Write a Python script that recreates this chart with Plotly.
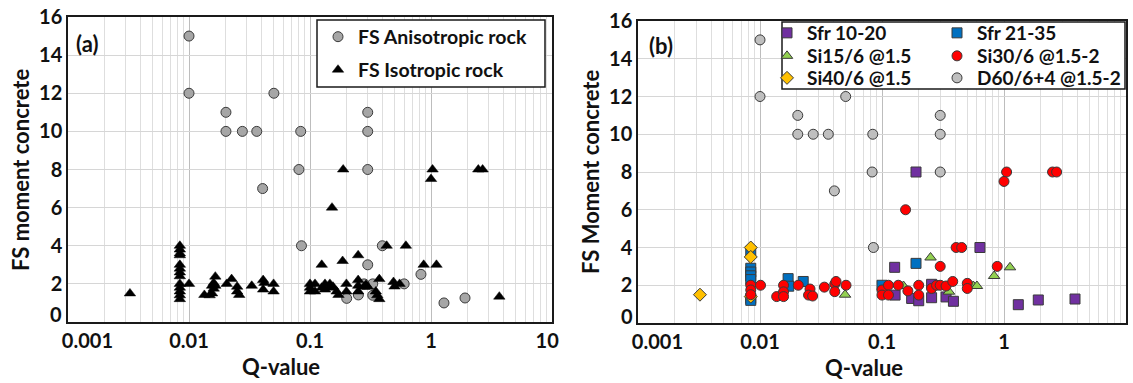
import plotly.graph_objects as go

W, H = 1133, 383

# ---------------- Panel (a) data ----------------
aniso_q = [0.01, 0.01, 0.0202, 0.0202, 0.0276, 0.0363, 0.0503, 0.0406, 0.0838, 0.081,
           0.30, 0.30, 0.30, 0.085, 0.396, 0.30, 0.826, 0.60, 0.33, 0.201, 0.251, 0.33,
           1.28, 1.91, 0.28]
aniso_fs = [15, 12, 11, 10, 10, 10, 12, 7, 10, 8,
            11, 10, 8, 4, 4, 3, 2.5, 2.0, 2.0, 1.24, 1.42, 1.4,
            1.0, 1.26, 2.0]

iso_q = [0.0084] * 13 + [
    0.00325, 0.01, 0.0134, 0.0148, 0.0155, 0.0155, 0.016, 0.016, 0.0165, 0.0165,
    0.0205, 0.0225, 0.025, 0.025, 0.026, 0.033, 0.041, 0.041, 0.042, 0.05, 0.05,
    0.1, 0.1, 0.1, 0.11, 0.11, 0.125, 0.125, 0.133, 0.133, 0.146, 0.146, 0.155, 0.166,
    0.152, 0.172, 0.186, 0.188, 0.2, 0.2, 0.25, 0.25, 0.25, 0.25, 0.28, 0.29, 0.3,
    0.35, 0.36, 0.374, 0.374, 0.43, 0.49, 0.5, 0.55, 0.62, 0.87, 1.0, 1.03, 1.11,
    2.46, 2.67, 3.67]
iso_fs = [4.0, 3.8, 3.6, 3.5, 3.0, 2.8, 2.6, 2.4, 2.0, 1.8, 1.6, 1.4, 1.2] + [
    1.5, 2.0, 1.42, 1.4, 1.5, 1.9, 2.05, 1.75, 2.38, 1.9,
    2.0, 2.25, 1.85, 1.6, 1.42, 1.9, 2.2, 1.7, 2.05, 2.0, 1.6,
    2.0, 1.6, 1.8, 2.0, 1.6, 3.0, 1.8, 2.0, 1.7, 2.0, 1.8, 1.85, 1.6,
    6.0, 1.42, 3.2, 8.0, 2.0, 1.6, 3.5, 2.2, 1.9, 1.6, 1.85, 1.95, 1.85,
    1.6, 1.4, 2.25, 1.2, 4.0, 2.1, 1.86, 2.0, 4.0, 3.0, 7.5, 8.0, 3.0,
    8.0, 8.0, 1.33]

# ---------------- Panel (b) data ----------------
sfr1020_q = [0.19, 0.635, 0.127, 1.31, 1.91, 3.82, 0.128, 0.175, 0.2, 0.255, 0.255, 0.335, 0.385]
sfr1020_fs = [8.0, 4.0, 2.95, 0.97, 1.22, 1.27, 1.48, 1.3, 1.18, 2.05, 1.34, 1.38, 1.15]

sfr2135_q = [0.0084, 0.0084, 0.0084, 0.0084, 0.0084, 0.0084, 0.0084, 0.017, 0.0172, 0.0226, 0.19, 0.1]
sfr2135_fs = [3.8, 2.9, 2.7, 2.5, 2.3, 1.3, 1.2, 2.35, 1.95, 2.2, 3.16, 2.0]

si15_q = [0.0498, 0.25, 0.15, 0.354, 0.56, 0.6, 0.83, 1.12]
si15_fs = [1.5, 3.47, 1.96, 1.66, 1.96, 1.96, 2.49, 2.95]

si30_q = [1.05, 1.0, 2.5, 2.7, 0.156, 0.405, 0.45, 0.3, 0.88,
          0.0084, 0.0084, 0.0084, 0.0101, 0.0137, 0.0156, 0.0156, 0.0156, 0.0206,
          0.0257, 0.025, 0.027, 0.0337, 0.041, 0.042, 0.041, 0.0507,
          0.1, 0.1, 0.113, 0.113, 0.136, 0.163, 0.2, 0.2, 0.255, 0.28, 0.3, 0.335,
          0.38, 0.5, 0.5]
si30_fs = [8.0, 7.5, 8.0, 8.0, 6.0, 4.0, 4.0, 3.0, 3.0,
           2.0, 1.75, 1.5, 2.0, 1.4, 2.0, 1.65, 1.4, 2.0,
           1.8, 1.48, 1.43, 1.9, 2.06, 2.2, 1.66, 2.0,
           1.75, 1.48, 2.0, 1.48, 2.0, 1.7, 2.0, 1.48, 1.83, 2.0, 2.0, 1.96,
           2.2, 2.1, 1.83]

si40_q = [0.00322, 0.0084, 0.0084, 0.0084]
si40_fs = [1.5, 4.0, 3.5, 1.4]

d60_q = [0.01, 0.01, 0.0204, 0.0204, 0.0273, 0.0363, 0.0504, 0.0407, 0.084, 0.083,
         0.3, 0.3, 0.3, 0.085]
d60_fs = [15, 12, 11, 10, 10, 10, 12, 7, 10, 8, 11, 10, 8, 4]

x_tickvals = [0.001, 0.01, 0.1, 1, 10]
x_ticklabels = ["0.001", "0.01", "0.1", "1", "10"]
y_tickvals = [0, 2, 4, 6, 8, 10, 12, 14, 16]

# ---------------- helpers ----------------
FONT = "Lato"
OUT = "#3a3a3a"


def px(x):
    return x / W


def py(y):
    return 1 - y / H


fig = go.Figure()


def add(q, fs, name, sym, col, axes, legend, lw=1, lcol=OUT):
    fig.add_trace(go.Scatter(
        x=q, y=fs, mode="markers", name="<b>%s</b>" % name,
        xaxis=axes[0], yaxis=axes[1], legend=legend,
        marker=dict(symbol=sym, size=10, color=col, line=dict(color=lcol, width=lw))))


# panel (a)
add(aniso_q, aniso_fs, "FS Anisotropic rock", "circle", "#a6a6a6", ("x", "y"), "legend")
add(iso_q, iso_fs, "FS Isotropic rock", "triangle-up", "black", ("x", "y"), "legend2",
    lw=0.5, lcol="black")
# panel (b) (grey drawn first, underneath)
add(d60_q, d60_fs, "D60/6+4 @1.5-2", "circle", "#bfbfbf", ("x2", "y2"), "legend8")
add(sfr1020_q, sfr1020_fs, "Sfr 10-20", "square", "#7030a0", ("x2", "y2"), "legend3")
add(sfr2135_q, sfr2135_fs, "Sfr 21-35", "square", "#0070c0", ("x2", "y2"), "legend6")
add(si40_q, si40_fs, "Si40/6 @1.5", "diamond", "#ffc000", ("x2", "y2"), "legend5")
add(si15_q, si15_fs, "Si15/6 @1.5", "triangle-up", "#92d050", ("x2", "y2"), "legend4")
add(si30_q, si30_fs, "Si30/6 @1.5-2", "circle", "#ff0000", ("x2", "y2"), "legend7")

minor_vals = [m * d for d in (0.001, 0.01, 0.1, 1) for m in range(2, 10)]
nb = "\u00a0"


def fmt_x(t):
    if t == "0.001":
        t = nb * 8 + t
    elif t == "10":
        t = t + nb * 2
    return "<b>%s</b>" % t


x_ticktext = [fmt_x(t) for t in x_ticklabels]
# the "0" label sits slightly raised in the original, so it is drawn as an annotation
y_ticktext = ["" if v == 0 else "<b>%d</b>" % v for v in y_tickvals]


def xax(domain, anchor):
    return dict(type="log", domain=domain, range=[-3, 1], anchor=anchor,
                tickmode="array", tickvals=x_tickvals, ticktext=x_ticktext,
                showgrid=True, gridcolor="#bdbdbd", gridwidth=1,
                minor=dict(tickmode="array", tickvals=minor_vals, showgrid=True,
                           gridcolor="#dedede", gridwidth=1, ticks=""),
                showline=True, linecolor="#1a1a1a", linewidth=1.5, mirror=True,
                ticks="", zeroline=False, automargin=False,
                tickfont=dict(family=FONT, size=20, color="#111"))


def yax(domain, anchor):
    return dict(domain=domain, range=[0, 16], anchor=anchor,
                tickmode="array", tickvals=y_tickvals, ticktext=y_ticktext,
                showgrid=True, gridcolor="#d6d6d6", gridwidth=1,
                showline=True, linecolor="#1a1a1a", linewidth=1.5, mirror=True,
                ticks="", zeroline=False, automargin=False,
                tickfont=dict(family=FONT, size=20, color="#111"))


def leg(x_left, y_mid, size):
    return dict(xref="container", yref="container", x=px(x_left), y=py(y_mid),
                xanchor="left", yanchor="middle", orientation="v",
                bgcolor="rgba(0,0,0,0)", borderwidth=0, traceorder="normal",
                font=dict(family=FONT, size=size, color="#111"))


fig.update_layout(
    width=W, height=H, margin=dict(l=0, r=0, t=0, b=0, autoexpand=False),
    paper_bgcolor="white", plot_bgcolor="white",
    xaxis=xax([px(68), px(552)], "y"),
    yaxis=yax([py(322), py(17)], "x"),
    xaxis2=xax([px(638), px(1126)], "y2"),
    yaxis2=yax([py(323), py(21)], "x2"),
    showlegend=True,
    legend=leg(318, 37, 19.5),
    legend2=leg(318, 70, 19.5),
    legend3=leg(767, 33, 19),
    legend4=leg(767, 56, 19),
    legend5=leg(767, 78, 19),
    legend6=leg(937, 33, 19),
    legend7=leg(937, 56, 19),
    legend8=leg(937, 78, 19),
    shapes=[
        dict(type="rect", xref="paper", yref="paper", layer="above",
             x0=px(317), x1=px(545), y0=py(87), y1=py(20),
             line=dict(color="#1a1a1a", width=1.5), fillcolor="white"),
        dict(type="rect", xref="paper", yref="paper", layer="above",
             x0=px(782), x1=px(1125), y0=py(89), y1=py(22),
             line=dict(color="#1a1a1a", width=1.5), fillcolor="white"),
    ],
)

ann_font = dict(family=FONT, size=22, color="#111")
annotations = [
    dict(text="<b>(a)</b>", x=px(87), y=py(43)),
    dict(text="<b>(b)</b>", x=px(661), y=py(45)),
    dict(text="<b>FS moment concrete</b>", x=px(20), y=py(170), textangle=-90),
    dict(text="<b>FS Moment concrete</b>", x=px(590), y=py(172), textangle=-90),
    dict(text="<b>Q-value</b>", x=px(281), y=py(366)),
    dict(text="<b>Q-value</b>", x=px(864), y=py(367)),
]
for a in annotations:
    a.update(xref="paper", yref="paper", xanchor="center", yanchor="middle",
             showarrow=False, font=ann_font)
zero_font = dict(family=FONT, size=20, color="#111")
for xr, yv in ((64, 314), (635, 316)):
    annotations.append(dict(text="<b>0</b>", x=px(xr), y=py(yv), xref="paper", yref="paper",
                            xanchor="right", yanchor="middle", showarrow=False,
                            font=zero_font))
fig.update_layout(annotations=annotations)

fig.write_html("out.html")
